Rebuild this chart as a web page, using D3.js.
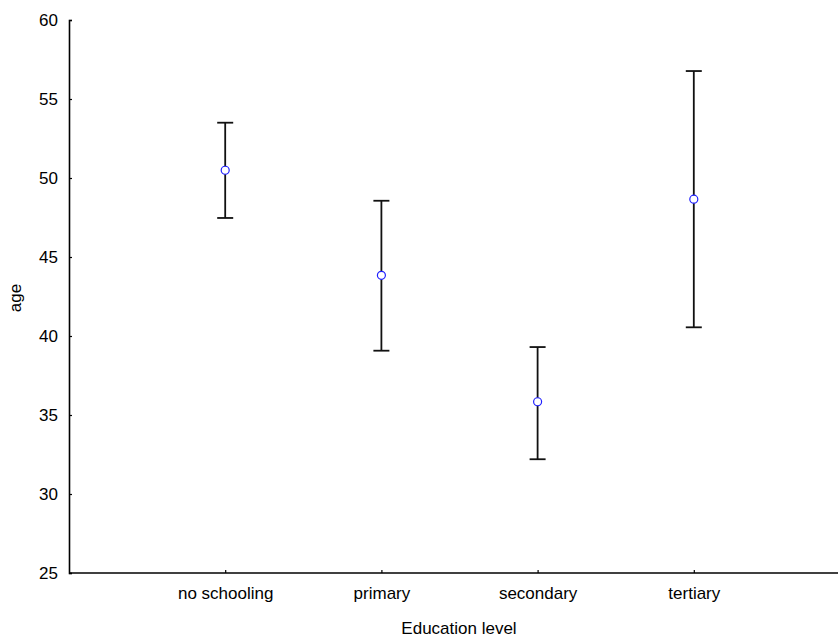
<!DOCTYPE html>
<html>
<head>
<meta charset="utf-8">
<script src="https://cdn.jsdelivr.net/npm/d3@7"></script>
<style>
  body { margin: 0; background: #fff; }
  svg { display: block; font-family: "Liberation Sans", Arial, sans-serif; }
</style>
</head>
<body>
<div id="chart"></div>
<script>
(function () {
  // ---- data ----
  const categories = ["no schooling", "primary", "secondary", "tertiary"];
  const means = [50.49, 43.84, 35.84, 48.66];
  const upper = [53.5, 48.56, 39.3, 56.77];
  const lower = [47.47, 39.07, 32.2, 40.55];
  const yTicks = [25, 30, 35, 40, 45, 50, 55, 60];

  const rows = categories.map((c, i) => ({ cat: c, mean: means[i], hi: upper[i], lo: lower[i] }));

  // ---- layout ----
  const W = 838, H = 639;
  const left = 69, top = 20, bottom = 573;

  const svg = d3.select("#chart").append("svg")
    .attr("width", W).attr("height", H);

  const x = d3.scalePoint().domain(categories).range([left, 850]).padding(1);
  const y = d3.scaleLinear().domain([25, 60]).range([bottom, top]);

  // ---- axes ----
  const yAxis = svg.append("g")
    .attr("transform", `translate(${left},0)`)
    .call(d3.axisLeft(y).tickValues(yTicks).tickSizeInner(-3).tickSizeOuter(-3).tickPadding(11));
  yAxis.select(".domain").attr("stroke-width", 1.6);
  yAxis.selectAll(".tick line").attr("stroke-width", 1.2);
  yAxis.selectAll("text").style("font-size", "17px").attr("fill", "#000");

  const xAxis = svg.append("g")
    .attr("transform", `translate(0,${bottom})`)
    .call(d3.axisBottom(x).tickSizeInner(-3).tickSizeOuter(0).tickPadding(14));
  xAxis.select(".domain").attr("d", `M${left},0H${W}`).attr("stroke-width", 1.6);
  xAxis.selectAll(".tick line").attr("stroke-width", 1.2);
  xAxis.selectAll("text").style("font-size", "17px").attr("fill", "#000");

  // ---- axis titles ----
  svg.append("text")
    .attr("x", 459).attr("y", 634)
    .attr("text-anchor", "middle")
    .style("font-size", "17px")
    .text("Education level");

  svg.append("text")
    .attr("transform", "translate(21,298) rotate(-90)")
    .attr("text-anchor", "middle")
    .style("font-size", "17px")
    .text("age");

  // ---- error bars ----
  const bars = svg.append("g").selectAll("g")
    .data(rows).enter().append("g")
    .attr("stroke", "#111").attr("stroke-width", 1.8);

  bars.append("line")
    .attr("x1", d => x(d.cat)).attr("x2", d => x(d.cat))
    .attr("y1", d => y(d.hi)).attr("y2", d => y(d.lo));
  bars.append("line")
    .attr("x1", d => x(d.cat) - 8).attr("x2", d => x(d.cat) + 8)
    .attr("y1", d => y(d.hi)).attr("y2", d => y(d.hi));
  bars.append("line")
    .attr("x1", d => x(d.cat) - 8).attr("x2", d => x(d.cat) + 8)
    .attr("y1", d => y(d.lo)).attr("y2", d => y(d.lo));

  // ---- means ----
  svg.append("g").selectAll("circle")
    .data(rows).enter().append("circle")
    .attr("cx", d => x(d.cat)).attr("cy", d => y(d.mean))
    .attr("r", 4)
    .attr("fill", "#fff")
    .attr("stroke", "#2020ff")
    .attr("stroke-width", 1.2);
})();
</script>
</body>
</html>
